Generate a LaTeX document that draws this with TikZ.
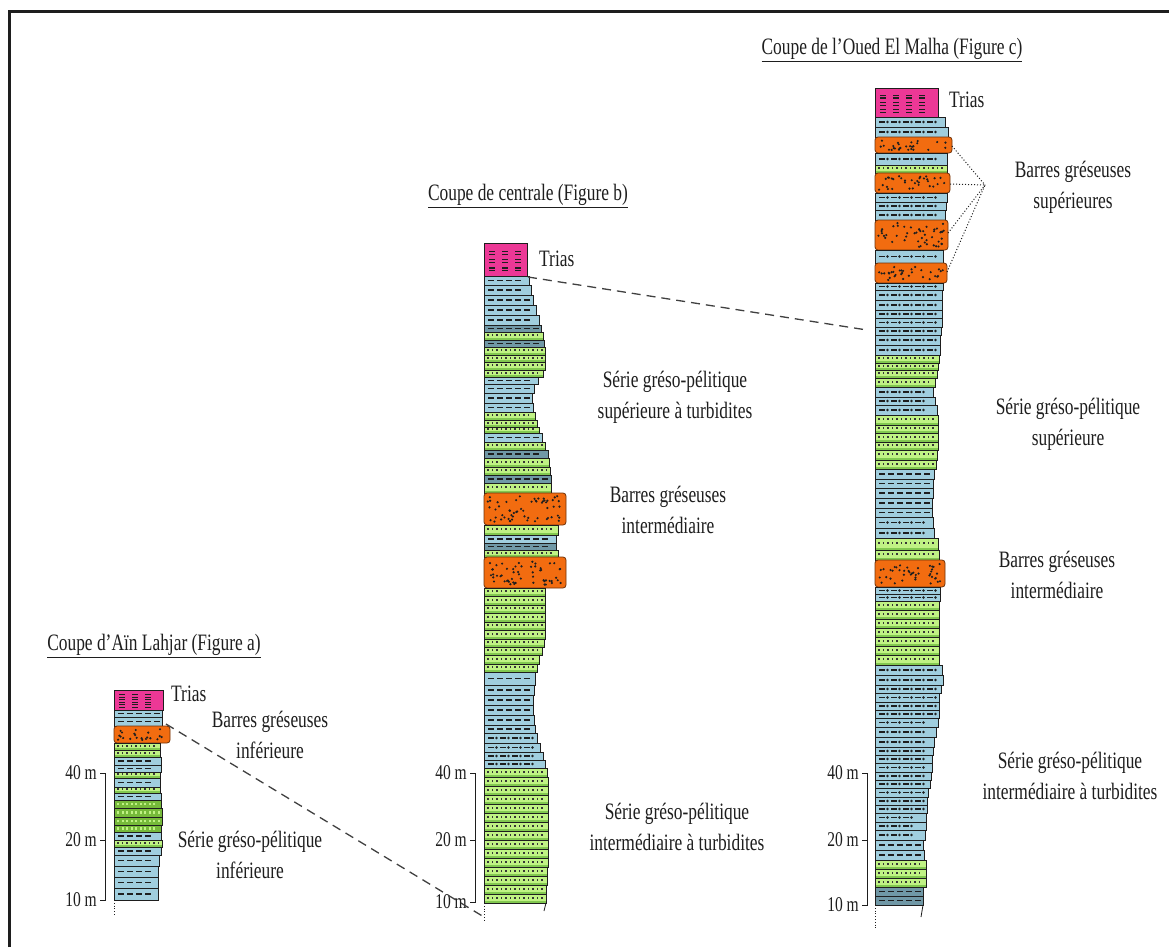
\documentclass[tikz,border=0pt]{standalone}
\usepackage{fontspec}
\setmainfont{Liberation Serif}[FakeStretch=0.74]
\usetikzlibrary{calc}
\tikzset{>=latex}

\definecolor{triaspink}{RGB}{236,56,150}
\definecolor{shaleblue}{RGB}{160,206,222}
\definecolor{shaledark}{RGB}{112,152,166}
\definecolor{sandgreen}{RGB}{192,242,132}
\definecolor{sandlow}{RGB}{130,200,80}
\definecolor{sanddark}{RGB}{118,186,58}
\definecolor{gritorange}{RGB}{242,108,16}
\definecolor{gritline}{RGB}{110,50,10}
\definecolor{ink}{RGB}{30,30,30}

\tikzset{
  bedline/.style={draw=ink,line width=0.8pt},
  shaledash/.style={draw=ink,line width=1.9pt},
  sanddot/.style={fill=ink!90},
  corr/.style={draw=ink!85,line width=1.3pt,dash pattern=on 9pt off 6pt},
  tie/.style={draw=ink,line width=1pt,dotted},
  scalebar/.style={draw=ink,line width=1pt},
  lbl/.style={align=center,text=ink,inner sep=1pt,
    font=\fontsize{23.5}{31}\selectfont},
  scl/.style={anchor=east,text=ink,inner sep=1pt,
    font=\fontsize{21}{22}\selectfont},
  ttl/.style={text=ink,inner sep=1pt,font=\fontsize{23.5}{31}\selectfont}
}

% #1 left x, #2 top, #3 base, #4 right x
\newcommand{\bedshale}[4]{%
  \fill[shaleblue] (#1,#2) rectangle (#4,#3);
  \pgfmathsetmacro{\ym}{(#2+#3)/2}%
  \pgfmathsetmacro{\xb}{#1+4}\pgfmathsetmacro{\xc}{#1+13}\pgfmathsetmacro{\xd}{#4-8}%
  \foreach \x in {\xb,\xc,...,\xd} \draw[shaledash] (\x,\ym) -- ++(6,0);
  \draw[bedline] (#1,#2) rectangle (#4,#3);
}
\newcommand{\beddshale}[4]{%
  \fill[shaledark] (#1,#2) rectangle (#4,#3);
  \pgfmathsetmacro{\ym}{(#2+#3)/2}%
  \pgfmathsetmacro{\xb}{#1+4}\pgfmathsetmacro{\xc}{#1+13}\pgfmathsetmacro{\xd}{#4-8}%
  \foreach \x in {\xb,\xc,...,\xd} \draw[shaledash] (\x,\ym) -- ++(6,0);
  \draw[bedline] (#1,#2) rectangle (#4,#3);
}
\newcommand{\bedcshale}[4]{%
  \fill[shaleblue] (#1,#2) rectangle (#4,#3);
  \pgfmathsetmacro{\ym}{(#2+#3)/2}%
  \pgfmathsetmacro{\xb}{#1+4}\pgfmathsetmacro{\xc}{#1+16}\pgfmathsetmacro{\xd}{#4-12}%
  \foreach \x in {\xb,\xc,...,\xd} {
    \draw[shaledash] (\x,\ym) -- ++(5.5,0);
    \fill[ink] (\x+8.5,\ym) circle (1.3);
  }
  \draw[bedline] (#1,#2) rectangle (#4,#3);
}
\newcommand{\bedsand}[4]{%
  \fill[sandgreen] (#1,#2) rectangle (#4,#3);
  \fill[sandlow] (#1,#3-2.5) rectangle (#4,#3);
  \pgfmathsetmacro{\ym}{(#2+#3)/2-0.8}%
  \pgfmathsetmacro{\xb}{#1+3}\pgfmathsetmacro{\xc}{#1+7.5}\pgfmathsetmacro{\xd}{#4-4}%
  \foreach \x in {\xb,\xc,...,\xd} \fill[sanddot] (\x,\ym-1.2) rectangle ++(1.6,2.4);
  \draw[bedline] (#1,#2) rectangle (#4,#3);
}
\newcommand{\beddsand}[4]{%
  \fill[sanddark] (#1,#2) rectangle (#4,#3);
  \pgfmathsetmacro{\ym}{(#2+#3)/2}%
  \pgfmathsetmacro{\xb}{#1+3}\pgfmathsetmacro{\xc}{#1+7.5}\pgfmathsetmacro{\xd}{#4-4}%
  \foreach \x in {\xb,\xc,...,\xd} \fill[sandgreen] (\x,\ym-1.2) rectangle ++(2,2.4);
  \draw[bedline] (#1,#2) rectangle (#4,#3);
}
\newcommand{\bedgrit}[4]{%
  \fill[gritorange,rounded corners=3pt] (#1,#2) rectangle (#4,#3);
  \pgfmathtruncatemacro{\nd}{(#4-#1)*(#3-#2)/45}%
  \foreach \i in {1,...,\nd} {
    \pgfmathsetmacro{\px}{#1+3+rnd*(#4-#1-7)}%
    \pgfmathsetmacro{\py}{#2+3+rnd*(#3-#2-6)}%
    \fill[ink] (\px,\py) circle (1.2);
  }
  \draw[bedline,draw=gritline,rounded corners=3pt] (#1,#2) rectangle (#4,#3);
}
\newcommand{\bedtrias}[4]{%
  \fill[triaspink] (#1,#2) rectangle (#4,#3);
  \pgfmathsetmacro{\xb}{#1+5}\pgfmathsetmacro{\xc}{#1+18}\pgfmathsetmacro{\xd}{#4-10}%
  \foreach \f in {0.3,0.55,0.8} {
    \pgfmathsetmacro{\yy}{#2+\f*(#3-#2)}%
    \foreach \x in {\xb,\xc,...,\xd}
      \draw[ink,line width=1.3pt] (\x,\yy-1.4) -- ++(6,0) (\x,\yy+1.4) -- ++(6,0);
  }
  \draw[bedline] (#1,#2) rectangle (#4,#3);
}

\begin{document}
\begin{tikzpicture}[x=1pt,y=-1pt]
\useasboundingbox (0,0) rectangle (1169,947);
\pgfmathsetseed{12}
\draw[ink,line width=3pt] (9,947) -- (9,12) -- (1169,12);

%%% Coupe a
\bedtrias{114}{690}{710}{163}
\foreach \t/\b/\r/\k in {710/717/162/shale, 717/726/162/shale, 726/743/170/grit,
  743/750/160/sand, 750/757/160/sand, 757/765/161/shale, 765/772/161/shale,
  772/778/160/sand, 778/787/160/shale, 787/793/160/sand, 793/800/161/shale,
  800/808/161/dsand, 808/817/162/dsand, 817/825/162/dsand, 825/832/161/dsand,
  832/840/161/shale, 840/847/162/sand, 847/855/161/shale, 855/866/159/shale,
  866/877/158/shale, 877/888/158/shale, 888/900/158/shale}
  {\csname bed\k\endcsname{114}{\t}{\b}{\r}}
\draw[ink,dotted,line width=0.8pt] (114,900) -- (114,915);

%%% Coupe b
\bedtrias{484}{243}{276}{527}
\foreach \t/\b/\r/\k in {276/285/529/shale, 285/295/531/shale, 295/305/533/shale,
  305/315/536/shale, 315/325/539/shale, 325/332/541/dshale, 332/340/543/sand,
  340/347/544/dshale, 347/355/545/sand, 355/362/545/sand, 362/370/545/sand,
  370/377/543/sand, 377/384/538/shale, 384/393/534/shale, 393/403/532/shale,
  403/412/533/shale, 412/420/535/sand, 420/427/537/sand, 427/433/539/sand,
  433/442/542/shale, 442/450/545/sand, 450/458/548/dshale, 458/467/549/sand,
  467/475/550/sand, 475/483/551/dshale, 483/493/551/sand, 493/525/566/grit,
  525/535/558/sand, 535/543/556/shale, 543/550/556/dshale, 550/557/558/sand,
  557/588/566/grit,
  588/596/545/sand, 596/605/545/sand, 605/613/545/sand, 613/622/545/sand,
  622/630/545/sand, 630/639/545/sand, 639/647/544/sand, 647/655/542/sand,
  655/664/539/sand, 664/672/537/sand,
  672/685/535/shale, 685/695/534/shale, 695/705/533/shale, 705/715/533/shale,
  715/725/534/shale, 725/733/535/shale,
  733/743/537/cshale, 743/752/540/cshale, 752/760/543/cshale, 760/768/545/cshale,
  768/777/547/sand, 777/786/548/sand, 786/795/548/sand, 795/804/548/sand,
  804/813/548/sand, 813/822/548/sand, 822/831/548/sand, 831/840/548/sand,
  840/849/548/sand, 849/858/548/sand, 858/867/548/sand, 867/876/547/sand,
  876/885/547/sand, 885/894/546/sand, 894/903/546/sand}
  {\csname bed\k\endcsname{484}{\t}{\b}{\r}}
\draw[ink,dotted,line width=0.8pt] (484,903) -- (484,920);
\draw[ink,line width=0.8pt] (546,903) -- (544,911);

%%% Coupe c
\bedtrias{875}{88}{117}{938}
\foreach \t/\b/\r/\k in {117/127/945/cshale, 127/137/948/cshale, 137/153/952/grit,
  153/165/947/cshale, 165/173/947/sand, 173/193/950/grit, 193/202/947/cshale,
  202/210/946/cshale, 210/220/945/cshale, 220/250/948/grit, 250/263/943/cshale,
  263/283/947/grit, 283/290/943/cshale, 290/300/942/cshale, 300/310/942/cshale,
  310/318/942/cshale, 318/327/942/cshale, 327/335/941/cshale, 335/345/940/cshale,
  345/355/940/cshale, 355/363/939/sand, 363/370/938/sand, 370/378/937/sand,
  378/387/935/sand, 387/397/933/cshale, 397/405/935/cshale, 405/415/937/cshale,
  415/425/938/sand, 425/433/938/sand, 433/442/938/sand, 442/450/938/sand,
  450/460/937/sand, 460/469/936/sand,
  469/479/934/shale, 479/488/933/shale, 488/498/933/shale, 498/508/932/shale,
  508/517/932/shale, 517/528/933/cshale, 528/538/934/cshale,
  538/550/938/sand, 550/560/939/sand, 560/587/945/grit,
  587/594/940/cshale, 594/601/940/cshale,
  601/610/939/sand, 610/619/939/sand, 619/628/939/sand, 628/637/939/sand,
  637/646/939/sand, 646/655/939/sand, 655/665/939/sand,
  665/675/942/cshale, 675/685/943/cshale, 685/693/941/cshale, 693/702/939/cshale,
  702/710/939/cshale, 710/718/939/cshale, 718/727/938/cshale, 727/737/936/cshale,
  737/747/934/cshale, 747/755/933/cshale, 755/763/932/cshale, 763/772/932/cshale,
  772/780/931/cshale, 780/788/930/cshale, 788/797/928/cshale, 797/805/927/cshale,
  805/813/927/cshale, 813/822/926/cshale, 822/830/926/cshale, 830/840/925/cshale,
  840/850/923/shale, 850/860/924/shale,
  860/869/926/sand, 869/878/926/sand, 878/887/926/sand,
  887/896/923/dshale, 896/905/923/dshale}
  {\csname bed\k\endcsname{875}{\t}{\b}{\r}}
\draw[ink,dotted,line width=0.8pt] (875,905) -- (875,930);
\draw[ink,line width=0.8pt] (923,905) -- (921,917);

%%% echelles
\draw[scalebar] (100,773) -- (105,773) -- (105,900) -- (100,900) (100,840) -- (105,840);
\foreach \v/\y in {40/773,20/840,10/900} \node[scl] (sa\v) at (98,\y) {\v~m};
\draw[scalebar] (470,773) -- (475,773) -- (475,902) -- (470,902) (470,840) -- (475,840);
\foreach \v/\y in {40/773,20/840,10/902} \node[scl] (sb\v) at (468,\y) {\v~m};
\draw[scalebar] (862,773) -- (867,773) -- (867,905) -- (862,905) (862,840) -- (867,840);
\foreach \v/\y in {40/773,20/840,10/905} \node[scl] (sc\v) at (860,\y) {\v~m};

%%% correlations
\coordinate (aTop) at (166,724);
\coordinate (bFoot) at (484,917);
\coordinate (bTop) at (528,277);
\coordinate (cMid) at (867,330);
\draw[corr] (aTop) -- (bFoot);
\draw[corr] (bTop) -- (cMid);
\coordinate (cTie) at (985,185);
\coordinate (cBar1) at (952,146);
\coordinate (cBar2) at (950,184);
\coordinate (cBar3) at (948,233);
\coordinate (cBar4) at (947,272);
\foreach \i in {1,...,4} \draw[tie] (cBar\i) -- (cTie);

%%% textes
\node[ttl] (ttla) at (154,646) {\underline{Coupe d’Aïn Lahjar (Figure a)}};
\node[ttl] (ttlb) at (528,196) {\underline{Coupe de centrale (Figure b)}};
\node[ttl] (ttlc) at (892,50) {\underline{Coupe de l’Oued El Malha (Figure c)}};

\node[lbl,anchor=west] (triasa) at (170,694) {Trias};
\node[lbl] (barresa) at (270,735) {Barres gréseuses\\inférieure};
\node[lbl] (seriea) at (250,855) {Série gréso-pélitique\\inférieure};

\node[lbl,anchor=west] (triasb) at (538,259) {Trias};
\node[lbl] (serieb1) at (675,397) {Série gréso-pélitique\\supérieure à turbidites};
\node[lbl] (barresb) at (668,510) {Barres gréseuses\\intermédiaire};
\node[lbl] (serieb2) at (677,827) {Série gréso-pélitique\\intermédiaire à turbidites};

\node[lbl,anchor=west] (triasc) at (948,100) {Trias};
\node[lbl] (barresc1) at (1073,187) {Barres gréseuses\\supérieures};
\node[lbl] (seriec1) at (1068,424) {Série gréso-pélitique\\supérieure};
\node[lbl] (barresc2) at (1057,575) {Barres gréseuses\\intermédiaire};
\node[lbl] (seriec2) at (1070,776) {Série gréso-pélitique\\intermédiaire à turbidites};
\end{tikzpicture}
\end{document}
